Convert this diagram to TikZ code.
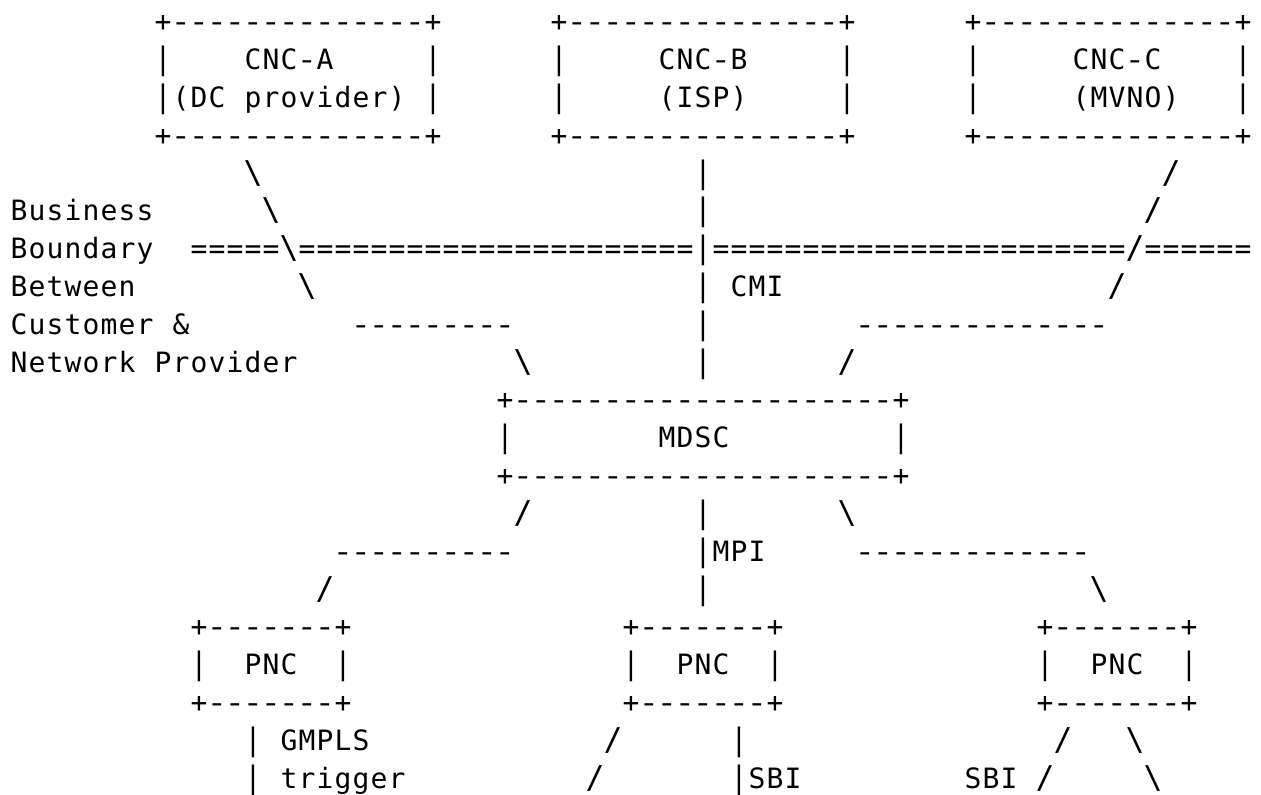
\documentclass[tikz,border=0pt]{standalone}
\usepackage{graphicx}
\usepackage{fontspec}
\setmonofont{DejaVu Sans Mono}
\newcommand{\bsl}{\scalebox{1.12}{\textbackslash}}
\newcommand{\fsl}{\scalebox{1.12}{/}}
\newcommand{\vb}{\scalebox{1}[1.1]{|}}
\makeatletter
\newcommand{\mono}[1]{\mono@a#1\relax}
\def\mono@b#1{\ifx#1-\makebox[9pt][c]{\scalebox{1.22}[1]{-}}\else\makebox[9pt][c]{#1}\fi}
\def\mono@a#1{\ifx#1\relax\else\mono@b{#1}\expandafter\mono@a\fi}
\makeatother
\tikzset{asc/.style={anchor=base west, inner sep=0pt, outer sep=0pt,
  font=\ttfamily\fontsize{14pt}{16pt}\selectfont, text=black}}
\newcommand{\tk}[4]{\node[asc] (#1) at ({5pt+#2*9pt},{-(16pt+#3*18.9pt)}) {\mono{#4}};}
\begin{document}
\begin{tikzpicture}
\fill[white] (0,0) rectangle (630.5pt,-397.5pt);
\useasboundingbox (0,0) rectangle (630.5pt,-397.5pt);
% row 0
\tk{aT}{8}{0}{+--------------+}
\tk{bT}{30}{0}{+---------------+}
\tk{cT}{53}{0}{+--------------+}
% row 1
\tk{aL1}{8}{1}{\vb}
\tk{aN}{13}{1}{CNC-A}
\tk{aR1}{23}{1}{\vb}
\tk{bL1}{30}{1}{\vb}
\tk{bN}{36}{1}{CNC-B}
\tk{bR1}{46}{1}{\vb}
\tk{cL1}{53}{1}{\vb}
\tk{cN}{59}{1}{CNC-C}
\tk{cR1}{68}{1}{\vb}
% row 2
\tk{aL2}{8}{2}{\vb(DC}
\tk{aP2}{13}{2}{provider)}
\tk{aR2}{23}{2}{\vb}
\tk{bL2}{30}{2}{\vb}
\tk{bS}{36}{2}{(ISP)}
\tk{bR2}{46}{2}{\vb}
\tk{cL2}{53}{2}{\vb}
\tk{cS}{59}{2}{(MVNO)}
\tk{cR2}{68}{2}{\vb}
% row 3
\tk{aB}{8}{3}{+--------------+}
\tk{bB}{30}{3}{+---------------+}
\tk{cB}{53}{3}{+--------------+}
% row 4
\tk{l4a}{13}{4}{\bsl}
\tk{l4b}{38}{4}{\vb}
\tk{l4c}{64}{4}{\fsl}
% row 5
\tk{t5}{0}{5}{Business}
\tk{l5a}{14}{5}{\bsl}
\tk{l5b}{38}{5}{\vb}
\tk{l5c}{63}{5}{\fsl}
% row 6
\tk{t6}{0}{6}{Boundary}
\tk{bnd}{10}{6}{=====\bsl======================\vb=======================\fsl======}
% row 7
\tk{t7}{0}{7}{Between}
\tk{l7a}{16}{7}{\bsl}
\tk{l7b}{38}{7}{\vb}
\tk{cmi}{40}{7}{CMI}
\tk{l7c}{61}{7}{\fsl}
% row 8
\tk{t8}{0}{8}{Customer}
\tk{t8b}{9}{8}{\&}
\tk{l8a}{19}{8}{---------}
\tk{l8b}{38}{8}{\vb}
\tk{l8c}{47}{8}{--------------}
% row 9
\tk{t9}{0}{9}{Network}
\tk{t9b}{8}{9}{Provider}
\tk{l9a}{28}{9}{\bsl}
\tk{l9b}{38}{9}{\vb}
\tk{l9c}{46}{9}{\fsl}
% MDSC
\tk{mT}{27}{10}{+---------------------+}
\tk{mL}{27}{11}{\vb}
\tk{mN}{36}{11}{MDSC}
\tk{mR}{49}{11}{\vb}
\tk{mB}{27}{12}{+---------------------+}
% row 13
\tk{l13a}{28}{13}{\fsl}
\tk{l13b}{38}{13}{\vb}
\tk{l13c}{46}{13}{\bsl}
% row 14
\tk{l14a}{18}{14}{----------}
\tk{mpi}{38}{14}{\vb MPI}
\tk{l14c}{47}{14}{-------------}
% row 15
\tk{l15a}{17}{15}{\fsl}
\tk{l15b}{38}{15}{\vb}
\tk{l15c}{60}{15}{\bsl}
% PNC boxes
\tk{pAT}{10}{16}{+-------+}
\tk{pBT}{34}{16}{+-------+}
\tk{pCT}{57}{16}{+-------+}
\tk{pAL}{10}{17}{\vb}
\tk{pAN}{13}{17}{PNC}
\tk{pAR}{18}{17}{\vb}
\tk{pBL}{34}{17}{\vb}
\tk{pBN}{37}{17}{PNC}
\tk{pBR}{42}{17}{\vb}
\tk{pCL}{57}{17}{\vb}
\tk{pCN}{60}{17}{PNC}
\tk{pCR}{65}{17}{\vb}
\tk{pAB}{10}{18}{+-------+}
\tk{pBB}{34}{18}{+-------+}
\tk{pCB}{57}{18}{+-------+}
% row 19
\tk{g19a}{13}{19}{\vb}
\tk{g19}{15}{19}{GMPLS}
\tk{l19a}{33}{19}{\fsl}
\tk{l19b}{40}{19}{\vb}
\tk{l19c}{58}{19}{\fsl}
\tk{l19d}{62}{19}{\bsl}
% row 20
\tk{g20a}{13}{20}{\vb}
\tk{g20}{15}{20}{trigger}
\tk{l20a}{32}{20}{\fsl}
\tk{sbi1}{40}{20}{\vb SBI}
\tk{sbi2}{53}{20}{SBI}
\tk{l20c}{57}{20}{\fsl}
\tk{l20d}{63}{20}{\bsl}
\end{tikzpicture}
\end{document}
